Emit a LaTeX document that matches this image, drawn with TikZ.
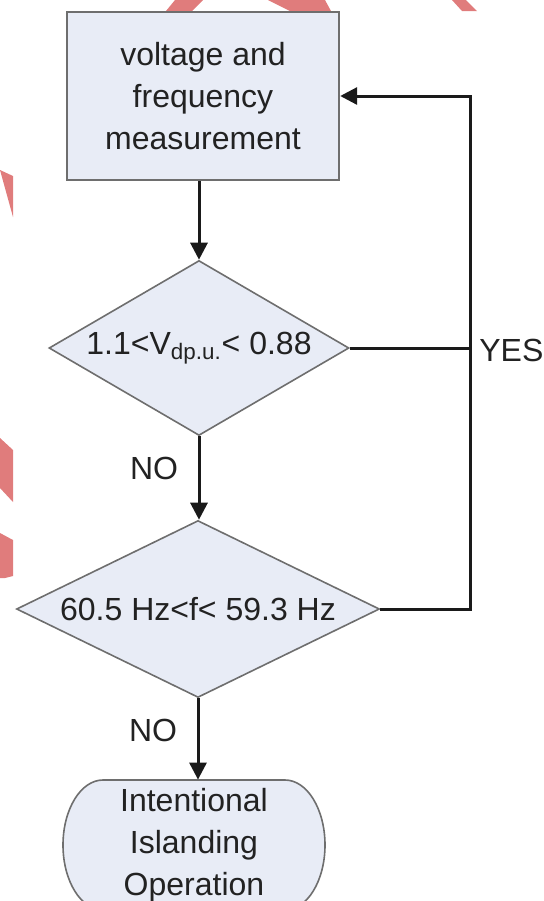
\documentclass[tikz,border=0pt]{standalone}
\usepackage{fontspec}
\setmainfont{Liberation Sans}
\usepackage{tikz}
\usetikzlibrary{arrows.meta,positioning,shapes.geometric}
\definecolor{boxfill}{HTML}{E8ECF6}
\definecolor{boxdraw}{HTML}{6E6E6E}
\definecolor{flowline}{HTML}{1A1A1A}
\definecolor{bodytext}{HTML}{222222}
\definecolor{markred}{HTML}{E07C7C}

\begin{document}
\begin{tikzpicture}[
    x=0.5pt, y=-0.5pt,
    every node/.style={font=\fontsize{16}{21}\selectfont, text=bodytext},
    process/.style={
        rectangle,
        fill=boxfill,
        draw=boxdraw,
        line width=1.2pt,
        minimum width=136pt,
        minimum height=84pt,
        align=center
    },
    decision/.style={
        diamond,
        fill=boxfill,
        draw=boxdraw,
        line width=0.8pt,
        inner sep=0pt,
        aspect=1.8
    },
    terminal/.style={
        rectangle,
        minimum width=131pt,
        minimum height=65pt,
        align=center
    },
    termline/.style={
        fill=boxfill,
        draw=boxdraw,
        line width=0.8pt
    },
    arrow/.style={
        -{Triangle[length=8.5pt, width=8.5pt]},
        line width=1.5pt,
        color=flowline
    },
    plain/.style={
        line width=1.5pt,
        color=flowline
    }
]
    \useasboundingbox (0,0) rectangle (544,901);

    % Watermark pieces
    \fill[markred] (175,0) -- (203,0) -- (192,11) -- (166,11) -- cycle;
    \fill[markred] (268,0) -- (325,0) -- (331,11) -- (290,11) -- cycle;
    \fill[markred] (452,0) -- (466,0) -- (477,11) -- (462,11) -- cycle;
    \fill[markred] (0,170) -- (13,176) -- (13,217) -- cycle;
    \fill[markred] (0,438) -- (13,450) -- (13,502) -- (0,488) -- cycle;
    \fill[markred] (0,533) -- (13,540) -- (13,576) -- (5,578) -- (0,578) -- cycle;

    % Measurement
    \node[process] (meas) at (203,96) {voltage and\\frequency\\measurement};

    % Voltage check
    \node[decision, minimum width=150pt, minimum height=87.5pt] (volt) at (199,348)
        {1.1<V\textsubscript{dp.u.}< 0.88};

    % Frequency check
    \node[decision, minimum width=181.5pt, minimum height=88.5pt] (freq) at (198,609)
        {60.5 Hz<f< 59.3 Hz};

    % Islanding (outline runs past the lower edge)
    \path[termline] (103,780) -- (285,780)
        arc[start angle=-90, end angle=90, x radius=40, y radius=65]
        -- (103,910)
        arc[start angle=90, end angle=270, x radius=40, y radius=65] -- cycle;
    \node[terminal] (island) at (194,845) {Intentional\\Islanding\\Operation};

    % Labels
    \node (no1) at (154,468) {NO};
    \node (no2) at (153,730) {NO};
    \node[anchor=west, inner sep=0pt] (yes) at (479,350) {YES};

    % Feedback corner
    \coordinate (fbot) at (470,609);

    % Arrows
    \draw[arrow] (meas.south -| volt.north) -- (volt.north);
    \draw[arrow] (volt.south) -- (volt.south |- freq.north);
    \draw[arrow] (freq.south) -- (freq.south |- island.north);
    \draw[plain] (volt.east) -- (volt.east -| fbot);
    \draw[arrow] (freq.east) -- (fbot) |- (meas.east);
\end{tikzpicture}
\end{document}
